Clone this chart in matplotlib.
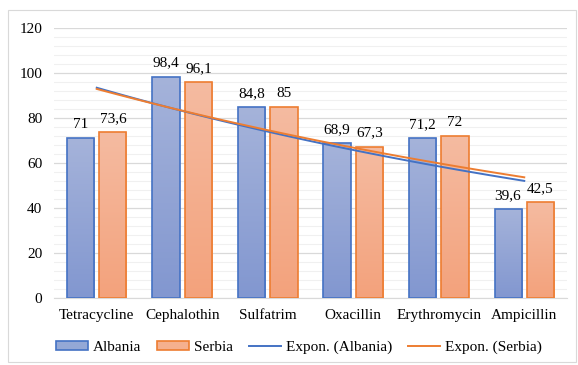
import numpy as np
import matplotlib.pyplot as plt
from matplotlib.patches import Rectangle
from matplotlib.lines import Line2D
from matplotlib.colors import LinearSegmentedColormap

plt.rcParams['font.family'] = ['Liberation Serif', 'DejaVu Serif']

antibiotics = ['Tetracycline', 'Cephalothin', 'Sulfatrim', 'Oxacillin', 'Erythromycin', 'Ampicillin']
albania = [71, 98.4, 84.8, 68.9, 71.2, 39.6]
serbia = [73.6, 96.1, 85, 67.3, 72, 42.5]
albania_labels = ['71', '98,4', '84,8', '68,9', '71,2', '39,6']
serbia_labels = ['73,6', '96,1', '85', '67,3', '72', '42,5']

blue_edge = '#4472c4'
orange_edge = '#ed7d31'
blue_grad = LinearSegmentedColormap.from_list('b', ['#8297d0', '#a5b3da'])
orange_grad = LinearSegmentedColormap.from_list('o', ['#f3a27c', '#f5bba1'])

fig = plt.figure(figsize=(5.78, 3.65), dpi=100)
ax = fig.add_axes([0.0934, 0.1836, 0.8876, 0.7397])

# rahmen um das ganze diagramm
fig.patches.append(Rectangle((8 / 578, 3 / 365), 568 / 578, 352 / 365, transform=fig.transFigure,
                             fill=False, edgecolor='#d9d9d9', linewidth=0.8))

x = np.arange(1, len(antibiotics) + 1)
w = 0.316
off = 0.19
grad = np.linspace(0, 1, 100).reshape(-1, 1)


def gradient_bars(xs, vals, cmap, edge):
    for xi, v in zip(xs, vals):
        rect = Rectangle((xi - w / 2, 0), w, v, facecolor='none', edgecolor=edge, linewidth=1.2, zorder=3)
        ax.add_patch(rect)
        im = ax.imshow(grad, cmap=cmap, origin='lower', aspect='auto',
                       extent=(xi - w / 2, xi + w / 2, 0, v), zorder=2)
        im.set_clip_path(rect)


gradient_bars(x - off, albania, blue_grad, blue_edge)
gradient_bars(x + off, serbia, orange_grad, orange_edge)

for xi, v, lab in zip(x - off, albania, albania_labels):
    ax.annotate(lab, (xi, v), xytext=(0, 5), textcoords='offset points', ha='center', va='bottom', fontsize=11)
for xi, v, lab in zip(x + off, serbia, serbia_labels):
    ax.annotate(lab, (xi, v), xytext=(0, 5), textcoords='offset points', ha='center', va='bottom', fontsize=11)

# exponentielle trendlinien (fit auf ln(y))
for vals, col in [(albania, blue_edge), (serbia, orange_edge)]:
    b, a = np.polyfit(x, np.log(vals), 1)
    xs = np.linspace(1, 6, 100)
    ax.plot(xs, np.exp(a + b * xs), color=col, linewidth=1.4, zorder=4)

ax.set_xlim(0.5, 6.5)
ax.set_ylim(0, 120)
ax.set_yticks(np.arange(0, 121, 20))
ax.set_yticks(np.arange(0, 121, 4), minor=True)
ax.set_xticks(x)
ax.set_xticklabels(antibiotics, fontsize=11)
ax.tick_params(axis='both', length=0, labelsize=11, colors='#000000')
ax.tick_params(axis='x', pad=8)
ax.tick_params(axis='y', pad=8.5)
ax.tick_params(which='minor', length=0)
ax.grid(which='major', axis='y', color='#d9d9d9', linewidth=0.9, zorder=0)
ax.grid(which='minor', axis='y', color='#f0f0f0', linewidth=0.8, zorder=0)
ax.set_axisbelow(True)
for s in ['top', 'right', 'left']:
    ax.spines[s].set_visible(False)
ax.spines['bottom'].set_color('#d9d9d9')

handles = [
    Rectangle((0, 0), 1, 1, facecolor='#94a8d6', edgecolor=blue_edge, linewidth=1.2),
    Rectangle((0, 0), 1, 1, facecolor='#f5b08f', edgecolor=orange_edge, linewidth=1.2),
    Line2D([], [], color=blue_edge, linewidth=1.4),
    Line2D([], [], color=orange_edge, linewidth=1.4),
]
names = ['Albania', 'Serbia', 'Expon. (Albania)', 'Expon. (Serbia)']
fig.legend(handles, names, loc='center', bbox_to_anchor=(0.517, 0.048), ncol=4, frameon=False,
           fontsize=11, handlelength=2.1, handleheight=0.5, handletextpad=0.3, columnspacing=1.05)

fig.savefig('out.png', dpi=100)
